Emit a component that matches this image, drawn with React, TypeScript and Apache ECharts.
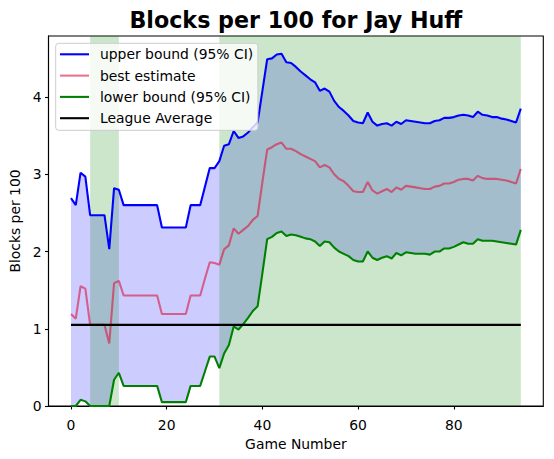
import React, { useEffect, useRef } from "react";
import * as echarts from "echarts";

// Per-game values (game number = index)
const upper = [
  2.69, 2.60, 3.02, 2.97, 2.47, 2.47, 2.47, 2.47, 2.03, 2.82,
  2.80, 2.60, 2.60, 2.60, 2.60, 2.60, 2.60, 2.60, 2.60, 2.31,
  2.31, 2.31, 2.31, 2.31, 2.31, 2.60, 2.60, 2.60, 2.84, 3.08,
  3.08, 3.17, 3.37, 3.39, 3.56, 3.47, 3.49, 3.54, 3.61, 3.67,
  4.08, 4.49, 4.50, 4.55, 4.56, 4.45, 4.44, 4.39, 4.33, 4.28,
  4.23, 4.19, 4.08, 4.11, 4.07, 3.95, 3.87, 3.82, 3.76, 3.69,
  3.67, 3.66, 3.80, 3.68, 3.63, 3.65, 3.66, 3.63, 3.68, 3.65,
  3.70, 3.69, 3.68, 3.67, 3.66, 3.66, 3.69, 3.70, 3.73, 3.73,
  3.74, 3.76, 3.77, 3.76, 3.74, 3.81, 3.77, 3.76, 3.74, 3.74,
  3.72, 3.71, 3.69, 3.67, 3.85,
];

const best = [
  1.19, 1.13, 1.55, 1.52, 1.05, 1.05, 1.05, 1.05, 0.81, 1.59,
  1.62, 1.43, 1.43, 1.43, 1.43, 1.43, 1.43, 1.43, 1.43, 1.19,
  1.19, 1.19, 1.19, 1.19, 1.19, 1.43, 1.43, 1.43, 1.65, 1.86,
  1.85, 1.83, 2.03, 2.08, 2.30, 2.23, 2.28, 2.33, 2.41, 2.46,
  2.90, 3.32, 3.35, 3.39, 3.41, 3.33, 3.33, 3.30, 3.26, 3.23,
  3.20, 3.17, 3.09, 3.12, 3.09, 3.00, 2.94, 2.91, 2.85, 2.78,
  2.77, 2.77, 2.90, 2.79, 2.75, 2.78, 2.81, 2.77, 2.83, 2.80,
  2.85, 2.84, 2.83, 2.82, 2.81, 2.81, 2.84, 2.85, 2.88, 2.88,
  2.90, 2.93, 2.94, 2.94, 2.92, 2.98, 2.95, 2.94, 2.94, 2.94,
  2.93, 2.92, 2.90, 2.88, 3.07,
];

const lower = [
  0, 0, 0.08, 0.06, 0, 0, 0, 0, 0, 0.34,
  0.43, 0.26, 0.26, 0.26, 0.26, 0.26, 0.26, 0.26, 0.26, 0.05,
  0.05, 0.05, 0.05, 0.05, 0.05, 0.26, 0.26, 0.26, 0.45, 0.64,
  0.64, 0.49, 0.68, 0.79, 1.03, 0.99, 1.06, 1.14, 1.23, 1.29,
  1.72, 2.16, 2.19, 2.24, 2.26, 2.20, 2.22, 2.21, 2.19, 2.17,
  2.16, 2.13, 2.07, 2.13, 2.12, 2.05, 2.00, 1.97, 1.94, 1.89,
  1.87, 1.87, 2.00, 1.92, 1.89, 1.92, 1.94, 1.91, 1.98, 1.95,
  1.99, 1.98, 1.97, 1.97, 1.97, 1.96, 2.00, 2.00, 2.04, 2.04,
  2.06, 2.09, 2.12, 2.10, 2.10, 2.16, 2.14, 2.14, 2.14, 2.13,
  2.12, 2.11, 2.10, 2.09, 2.28,
];

const leagueAverage = 1.05;
const leagueRange = [0, 94];
const greenSpans: [number, number][] = [
  [4, 10],
  [31, 94],
];
const xTicks = [0, 20, 40, 60, 80];
const yTicks = [0, 1, 2, 3, 4];
const seriesNames = [
  "upper bound (95% CI)",
  "best estimate",
  "lower bound (95% CI)",
  "League Average",
];
const titleText = "Blocks per 100 for Jay Huff";
const xName = "Game Number";
const yName = "Blocks per 100";

const FONT = '"DejaVu Sans", "Liberation Sans", sans-serif';
const FS = 13.9;
const LW = 2.08;

export default function App() {
  const ref = useRef<HTMLDivElement>(null);

  useEffect(() => {
    if (!ref.current) return;
    const chart = echarts.init(ref.current, undefined, { renderer: "svg" });
    const games = upper.map((_, i) => i);

    const axisCommon = {
      type: "value" as const,
      splitLine: { show: false },
      axisLine: { show: true, onZero: false, lineStyle: { color: "#000", width: 1.1 } },
      axisTick: {
        show: true,
        inside: false,
        length: 3.5,
        lineStyle: { color: "#000", width: 1.1 },
      },
      nameTextStyle: { fontFamily: FONT, fontSize: FS, color: "#000" },
    };

    const option: any = {
      animation: false,
      backgroundColor: "#ffffff",
      grid: {
        left: 48.5,
        right: 10.7,
        top: 36,
        bottom: 53,
        show: true,
        borderColor: "#000",
        borderWidth: 1.1,
        backgroundColor: "transparent",
        containLabel: false,
        outerBoundsMode: "none",
      },
      xAxis: {
        ...axisCommon,
        min: -4.7,
        max: 98.7,
        axisTick: { ...axisCommon.axisTick, customValues: xTicks },
        axisLabel: {
          customValues: xTicks,
          margin: 12,
          fontFamily: FONT,
          fontSize: FS,
          color: "#000",
        },
        name: xName,
        nameLocation: "middle",
        nameGap: 30,
      },
      yAxis: {
        ...axisCommon,
        min: 0,
        max: 4.79,
        axisTick: { ...axisCommon.axisTick, customValues: yTicks },
        axisLabel: {
          customValues: yTicks,
          margin: 7,
          fontFamily: FONT,
          fontSize: FS,
          color: "#000",
        },
        name: yName,
        nameLocation: "middle",
        nameRotate: 90,
        nameGap: 25.6,
      },
      legend: {
        data: seriesNames,
        orient: "vertical",
        left: 55.7,
        top: 43.3,
        padding: [4, 4.7, 5.1, 4.3],
        itemWidth: 29,
        itemHeight: 14,
        itemGap: 7.3,
        icon: "path://M0,0L29,0L29,2.08L0,2.08Z",
        selectedMode: false,
        backgroundColor: "rgba(255,255,255,0.8)",
        borderColor: "#cccccc",
        borderWidth: 1,
        borderRadius: 3,
        textStyle: {
          fontFamily: FONT,
          fontSize: FS,
          color: "#000",
          lineHeight: 14,
          padding: [0, 0, 0, 6],
        },
      },
      graphic: [
        {
          type: "text",
          x: 295.9,
          y: 20.3,
          style: {
            text: titleText,
            font: `bold 22.2px ${FONT}`,
            fill: "#000",
            align: "center",
            verticalAlign: "middle",
          },
        },
      ],
      series: [
        {
          name: "_ciBand",
          type: "custom",
          data: games.map((g) => [g, lower[g], upper[g]]),
          encode: { x: 0, y: [1, 2] },
          silent: true,
          z: 0,
          renderItem: (params: any, api: any) => {
            if (params.dataIndex !== 0) return null;
            const top = games.map((g) => api.coord([g, upper[g]]));
            const bottom = games
              .slice()
              .reverse()
              .map((g) => api.coord([g, lower[g]]));
            return {
              type: "polygon",
              shape: { points: top.concat(bottom) },
              style: { fill: "rgba(0,0,255,0.2)", stroke: "none" },
              silent: true,
            };
          },
        },
        {
          name: seriesNames[0],
          type: "line",
          data: games.map((g) => [g, upper[g]]),
          symbol: "none",
          z: 2,
          color: "#0000ff",
          lineStyle: { color: "#0000ff", width: LW },
          markArea: {
            silent: true,
            z: 1,
            itemStyle: { color: "rgba(0,128,0,0.2)" },
            data: greenSpans.map(([a, b]) => [{ xAxis: a }, { xAxis: b }]),
          },
        },
        {
          name: seriesNames[1],
          type: "line",
          data: games.map((g) => [g, best[g]]),
          symbol: "none",
          z: 2,
          color: "rgba(220,20,60,0.6)",
          lineStyle: { color: "rgba(220,20,60,0.6)", width: LW },
        },
        {
          name: seriesNames[2],
          type: "line",
          data: games.map((g) => [g, lower[g]]),
          symbol: "none",
          z: 2,
          color: "#008000",
          lineStyle: { color: "#008000", width: LW },
        },
        {
          name: seriesNames[3],
          type: "line",
          data: leagueRange.map((g) => [g, leagueAverage]),
          symbol: "none",
          z: 2,
          color: "#000000",
          lineStyle: { color: "#000000", width: LW },
        },
      ],
    };

    chart.setOption(option);
    return () => chart.dispose();
  }, []);

  return (
    <div
      ref={ref}
      style={{ position: "absolute", left: 0, top: 0, width: 554, height: 459 }}
    />
  );
}
